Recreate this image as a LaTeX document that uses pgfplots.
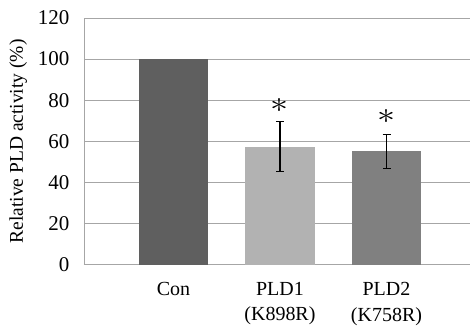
\documentclass[border=0pt]{standalone}
\usepackage{pgfplots}
\pgfplotsset{compat=1.18}
\usepackage{fontspec}
\setmainfont{Liberation Serif}
\definecolor{conc}{HTML}{5F5F5F}
\definecolor{pld1c}{HTML}{B2B2B2}
\definecolor{pld2c}{HTML}{808080}
\definecolor{gridc}{HTML}{A6A6A6}
\begin{document}
\begin{tikzpicture}
\begin{axis}[
  scale only axis,
  width=386pt, height=247pt,
  xmin=-0.84, xmax=2.78,
  ymin=0, ymax=120,
  ytick={0,20,...,120},
  xtick={0,1,2},
  xticklabels={Con,{PLD1\\(K898R)},{PLD2\\(K758R)}},
  xticklabel style={align=center, font=\fontsize{20}{25.5}\selectfont, yshift=-14pt},
  yticklabel style={font=\fontsize{21}{22}\selectfont, xshift=-11pt},
  /pgf/number format/assume math mode=true,
  ymajorgrids,
  grid style={gridc, line width=0.8pt},
  axis lines*=left,
  axis line style={gridc, line width=0.8pt},
  major tick length=0pt,
  ylabel={Relative PLD activity (\%)},
  ylabel style={font=\fontsize{19.5}{22}\selectfont, yshift=4pt},
  clip=false,
]
\addplot[ybar, bar width=0.65, bar shift=0pt, fill=conc, draw=none] coordinates {(0,100)};
\addplot[ybar, bar width=0.65, bar shift=0pt, fill=pld1c, draw=none,
  error bars/.cd, y dir=both, y explicit, error mark options={rotate=90, mark size=4pt, line width=1.3pt, black},
  error bar style={line width=1.3pt, black}] coordinates {(1,57.5) +- (0,12.3)};
\addplot[ybar, bar width=0.65, bar shift=0pt, fill=pld2c, draw=none,
  error bars/.cd, y dir=both, y explicit, error mark options={rotate=90, mark size=4pt, line width=1.3pt, black},
  error bar style={line width=1.3pt, black}] coordinates {(2,55.2) +- (0,8.3)};
\addplot[draw=none, mark=none, nodes near coords={$\ast$}, nodes near coords align=center,
  every node near coord/.append style={xscale=3.6, yscale=3.0, inner sep=0pt},
  point meta=explicit symbolic] coordinates {(1,77.5)[a] (2,72)[b]};
\end{axis}
\path ([xshift=-84pt,yshift=-59pt]current axis.south west) rectangle ([yshift=18pt]current axis.north east);
\end{tikzpicture}
\end{document}
